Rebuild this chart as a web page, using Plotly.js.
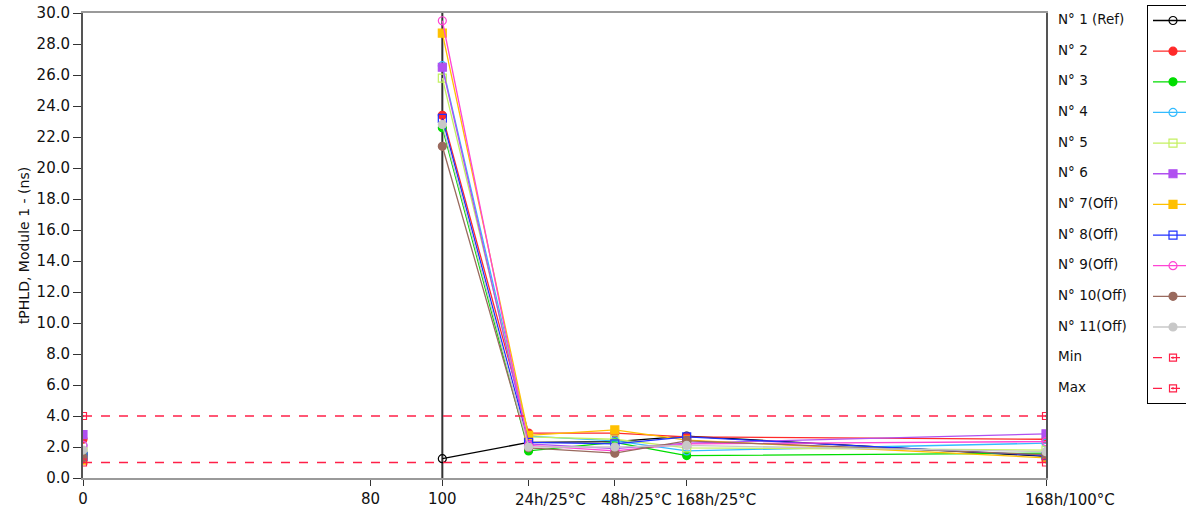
<!DOCTYPE html>
<html>
<head>
<meta charset="utf-8">
<script src="https://cdn.plot.ly/plotly-3.0.1.min.js"></script>
<style>
  html, body { margin: 0; padding: 0; background: #ffffff; }
  #chart { width: 1186px; height: 513px; }
</style>
</head>
<body>
<div id="chart"></div>
<script>
// ---- data ----
const xPoints = [0, 100, 124, 148, 168, 268];
const tickVals = [0, 80, 100, 124, 148, 168, 268];
const tickText = ['0', '80', '100', '24h/25°C', '48h/25°C', '168h/25°C', '168h/100°C'];

const seriesNames = ['N° 1 (Ref)', 'N° 2', 'N° 3', 'N° 4', 'N° 5', 'N° 6', 'N° 7(Off)', 'N° 8(Off)', 'N° 9(Off)', 'N° 10(Off)', 'N° 11(Off)'];
const n1  = [1.5, 1.25, 2.3, 2.35, 2.7, 1.4];
const n2  = [2.5, 23.4, 2.9, 2.9, 2.65, 2.5];
const n3  = [1.6, 22.6, 1.75, 2.3, 1.45, 1.6];
const n4  = [2.1, 26.6, 2.7, 2.4, 1.75, 2.25];
const n5  = [1.7, 25.8, 2.65, 2.5, 1.95, 1.8];
const n6  = [2.8, 26.5, 2.2, 1.9, 2.25, 2.85];
const n7  = [1.15, 28.7, 2.75, 3.1, 2.45, 1.3];
const n8  = [1.4, 23.2, 2.3, 2.2, 2.65, 1.45];
const n9  = [2.1, 29.5, 2.1, 1.75, 2.2, 2.35];
const n10 = [1.3, 21.4, 1.95, 1.6, 2.4, 1.5];
const n11 = [1.8, 22.8, 2.0, 2.0, 2.1, 1.7];
const limitX = [0, 268];
const minVals = [1.0, 1.0];
const maxVals = [4.0, 4.0];
const cursorX = 100;

// ---- styles ----
const seriesValues = [n1, n2, n3, n4, n5, n6, n7, n8, n9, n10, n11];
const colors = ['#000000', '#ff2a2a', '#00dd00', '#33bbff', '#c4f060', '#b050f0', '#ffc000', '#2030ff', '#ff44d4', '#9a6a5e', '#c8c8c8'];
const symbols = ['circle-open', 'circle', 'circle', 'circle-open', 'square-open', 'square', 'square', 'square-open', 'circle-open', 'circle', 'circle'];
const limitColor = '#ff2048';
const allNames = seriesNames.concat(['Min', 'Max']);
// text labels (non-numeric) start slightly left of their tick in the original: px offset of label start
const labelStartOffset = [null, null, null, -15, -15, -12, -22];

const FONT = 'DejaVu Sans, Verdana, sans-serif';
const traces = [];
seriesValues.forEach((vals, i) => {
  traces.push({
    type: 'scatter', mode: 'lines+markers',
    name: ' ', legendgroup: 'g' + i, text: seriesNames[i],
    x: [xPoints[0], null].concat(xPoints.slice(1)),
    y: [vals[0], null].concat(vals.slice(1)),
    line: { color: colors[i], width: 1.3 },
    marker: { symbol: symbols[i], size: 8, color: colors[i], line: { color: colors[i], width: 1.2 } },
    connectgaps: false
  });
});
[['Min', minVals], ['Max', maxVals]].forEach(([nm, vals]) => {
  traces.push({
    type: 'scatter', mode: 'lines+markers', name: ' ', legendgroup: 'g' + nm, text: nm,
    x: limitX, y: vals,
    line: { color: limitColor, width: 1.3, dash: 'dash' },
    marker: { symbol: 'square-open-dot', size: 7, color: limitColor, line: { color: limitColor, width: 1.2 } }
  });
});

// plot area in pixels
const W = 1186, H = 513;
const M = { l: 83, r: 140, t: 13, b: 35 };
const plotW = W - M.l - M.r, plotH = H - M.t - M.b;
const itemStep = 30.65, firstItemY = 19;
const annotations = allNames.map((nm, i) => ({
  xref: 'paper', yref: 'paper',
  x: (1056 - M.l) / plotW, xanchor: 'left',
  y: (H - M.b - (firstItemY + i * itemStep)) / plotH, yanchor: 'middle',
  text: nm, showarrow: false,
  font: { family: FONT, size: 13.5, color: '#111111' }
}));
// numeric tick labels stay on the axis; text tick labels are drawn as annotations at their ticks
const axisTickText = tickText.map((t, i) => labelStartOffset[i] === null ? t : '');
tickText.forEach((t, i) => {
  if (labelStartOffset[i] === null) return;
  annotations.push({
    xref: 'x', yref: 'paper', x: tickVals[i], y: 0,
    xanchor: 'left', yanchor: 'top', xshift: labelStartOffset[i] - 1, yshift: -11,
    text: t, showarrow: false,
    font: { family: FONT, size: 15, color: '#111111' }
  });
});

const layout = {
  width: W, height: H,
  margin: { l: M.l, r: M.r, t: M.t, b: M.b, autoexpand: false },
  paper_bgcolor: '#ffffff', plot_bgcolor: '#ffffff',
  font: { family: FONT, size: 13, color: '#111111' },
  showlegend: true,
  legend: {
    x: (1147 - M.l) / plotW, xanchor: 'left',
    y: 1 + 8 / plotH, yanchor: 'top',
    bordercolor: '#000000', borderwidth: 1, bgcolor: '#ffffff',
    font: { size: 1, color: 'rgba(0,0,0,0)' },
    itemwidth: 40, traceorder: 'grouped', tracegroupgap: itemStep - 19,
    maxheight: 500,
    itemclick: false, itemdoubleclick: false
  },
  xaxis: {
    range: [0, 268], tickmode: 'array', tickvals: tickVals, ticktext: axisTickText,
    tickangle: 0, ticks: 'outside', ticklen: 6, tickcolor: '#333333', tickwidth: 1,
    showgrid: false, zeroline: false,
    showline: true, linecolor: '#9a9a9a', linewidth: 2, mirror: true,
    tickfont: { family: FONT, size: 15, color: '#111111' }
  },
  yaxis: {
    range: [0, 30], dtick: 2, tick0: 0, tickformat: '.1f',
    ticks: 'outside', ticklen: 8, tickcolor: '#333333', tickwidth: 1,
    showgrid: false, zeroline: false,
    showline: true, linecolor: '#555555', linewidth: 2, mirror: true,
    tickfont: { family: FONT, size: 15, color: '#111111' },
    title: { text: 'tPHLD, Module 1 - (ns)', font: { family: FONT, size: 14, color: '#111111' }, standoff: 4 }
  },
  shapes: [{
    type: 'line', xref: 'x', yref: 'paper', x0: cursorX, x1: cursorX, y0: 0, y1: 1,
    line: { color: '#333333', width: 2 }, layer: 'below'
  }],
  annotations: annotations
};

Plotly.newPlot('chart', traces, layout, { displayModeBar: false, staticPlot: true });
</script>
</body>
</html>
